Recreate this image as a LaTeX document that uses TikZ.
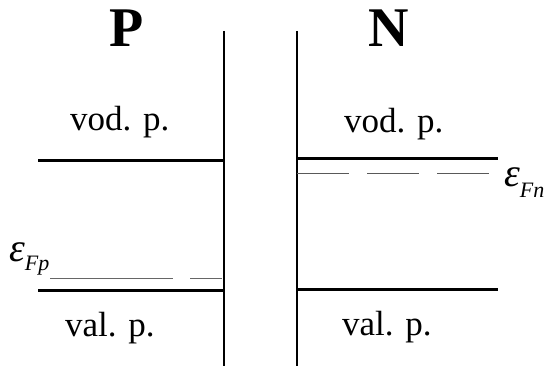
\documentclass[tikz,border=0pt]{standalone}
\usepackage{fontspec}
\setmainfont{Liberation Serif}
\begin{document}
\begin{tikzpicture}[x=1pt,y=-1pt,
  band/.style={line width=3pt},
  wall/.style={line width=2.4pt},
  fermi/.style={line width=1pt, black!65, dash pattern=on 52pt off 18pt},
  lbl/.style={font=\fontsize{35}{38}\selectfont, inner sep=0pt, anchor=base west},
  side/.style={font=\fontsize{56}{60}\selectfont\bfseries, inner sep=0pt},
  eps/.style={font=\fontsize{40}{44}\selectfont\itshape, inner sep=0pt, anchor=base west}]
\useasboundingbox (0,0) rectangle (553,366);
% side labels
\node[side] (P) at (127,28) {P};
\node[side] (N) at (389,28) {N};
% junction walls
\coordinate (wlt) at (224,31); \coordinate (wlb) at (224,366);
\coordinate (wrt) at (297,31); \coordinate (wrb) at (297,366);
\draw[wall] (wlt) -- (wlb);
\draw[wall] (wrt) -- (wrb);
% P side bands
\coordinate (pcA) at (38,160); \coordinate (pcB) at (224,160);
\coordinate (pvA) at (38,290); \coordinate (pvB) at (224,290);
\draw[band] (pcA) -- (pcB);
\draw[band] (pvA) -- (pvB);
% N side bands
\coordinate (ncA) at (297,158); \coordinate (ncB) at (498,158);
\coordinate (nvA) at (297,289); \coordinate (nvB) at (498,289);
\draw[band] (ncA) -- (ncB);
\draw[band] (nvA) -- (nvB);
% Fermi levels
\coordinate (fpA) at (50,278); \coordinate (fpB) at (222,278);
\draw[line width=1pt, black!60, dash pattern=on 123pt off 17pt] (fpA) -- (fpB);
\coordinate (fnA) at (297,173); \coordinate (fnB) at (490,173);
\draw[fermi] (fnA) -- (fnB);
% labels
\node[lbl] (vodP) at (70,131) {vod. p.};
\node[lbl] (vodN) at (344,132) {vod. p.};
\node[lbl] (valP) at (65,336) {val. p.};
\node[lbl] (valN) at (342,335) {val. p.};
\node[eps] (eFp) at (9,261) {ε\raisebox{-9pt}{\fontsize{22}{24}\selectfont Fp}};
\node[eps] (eFn) at (504,186) {ε\raisebox{-11pt}{\fontsize{22}{24}\selectfont Fn}};
\end{tikzpicture}
\end{document}
